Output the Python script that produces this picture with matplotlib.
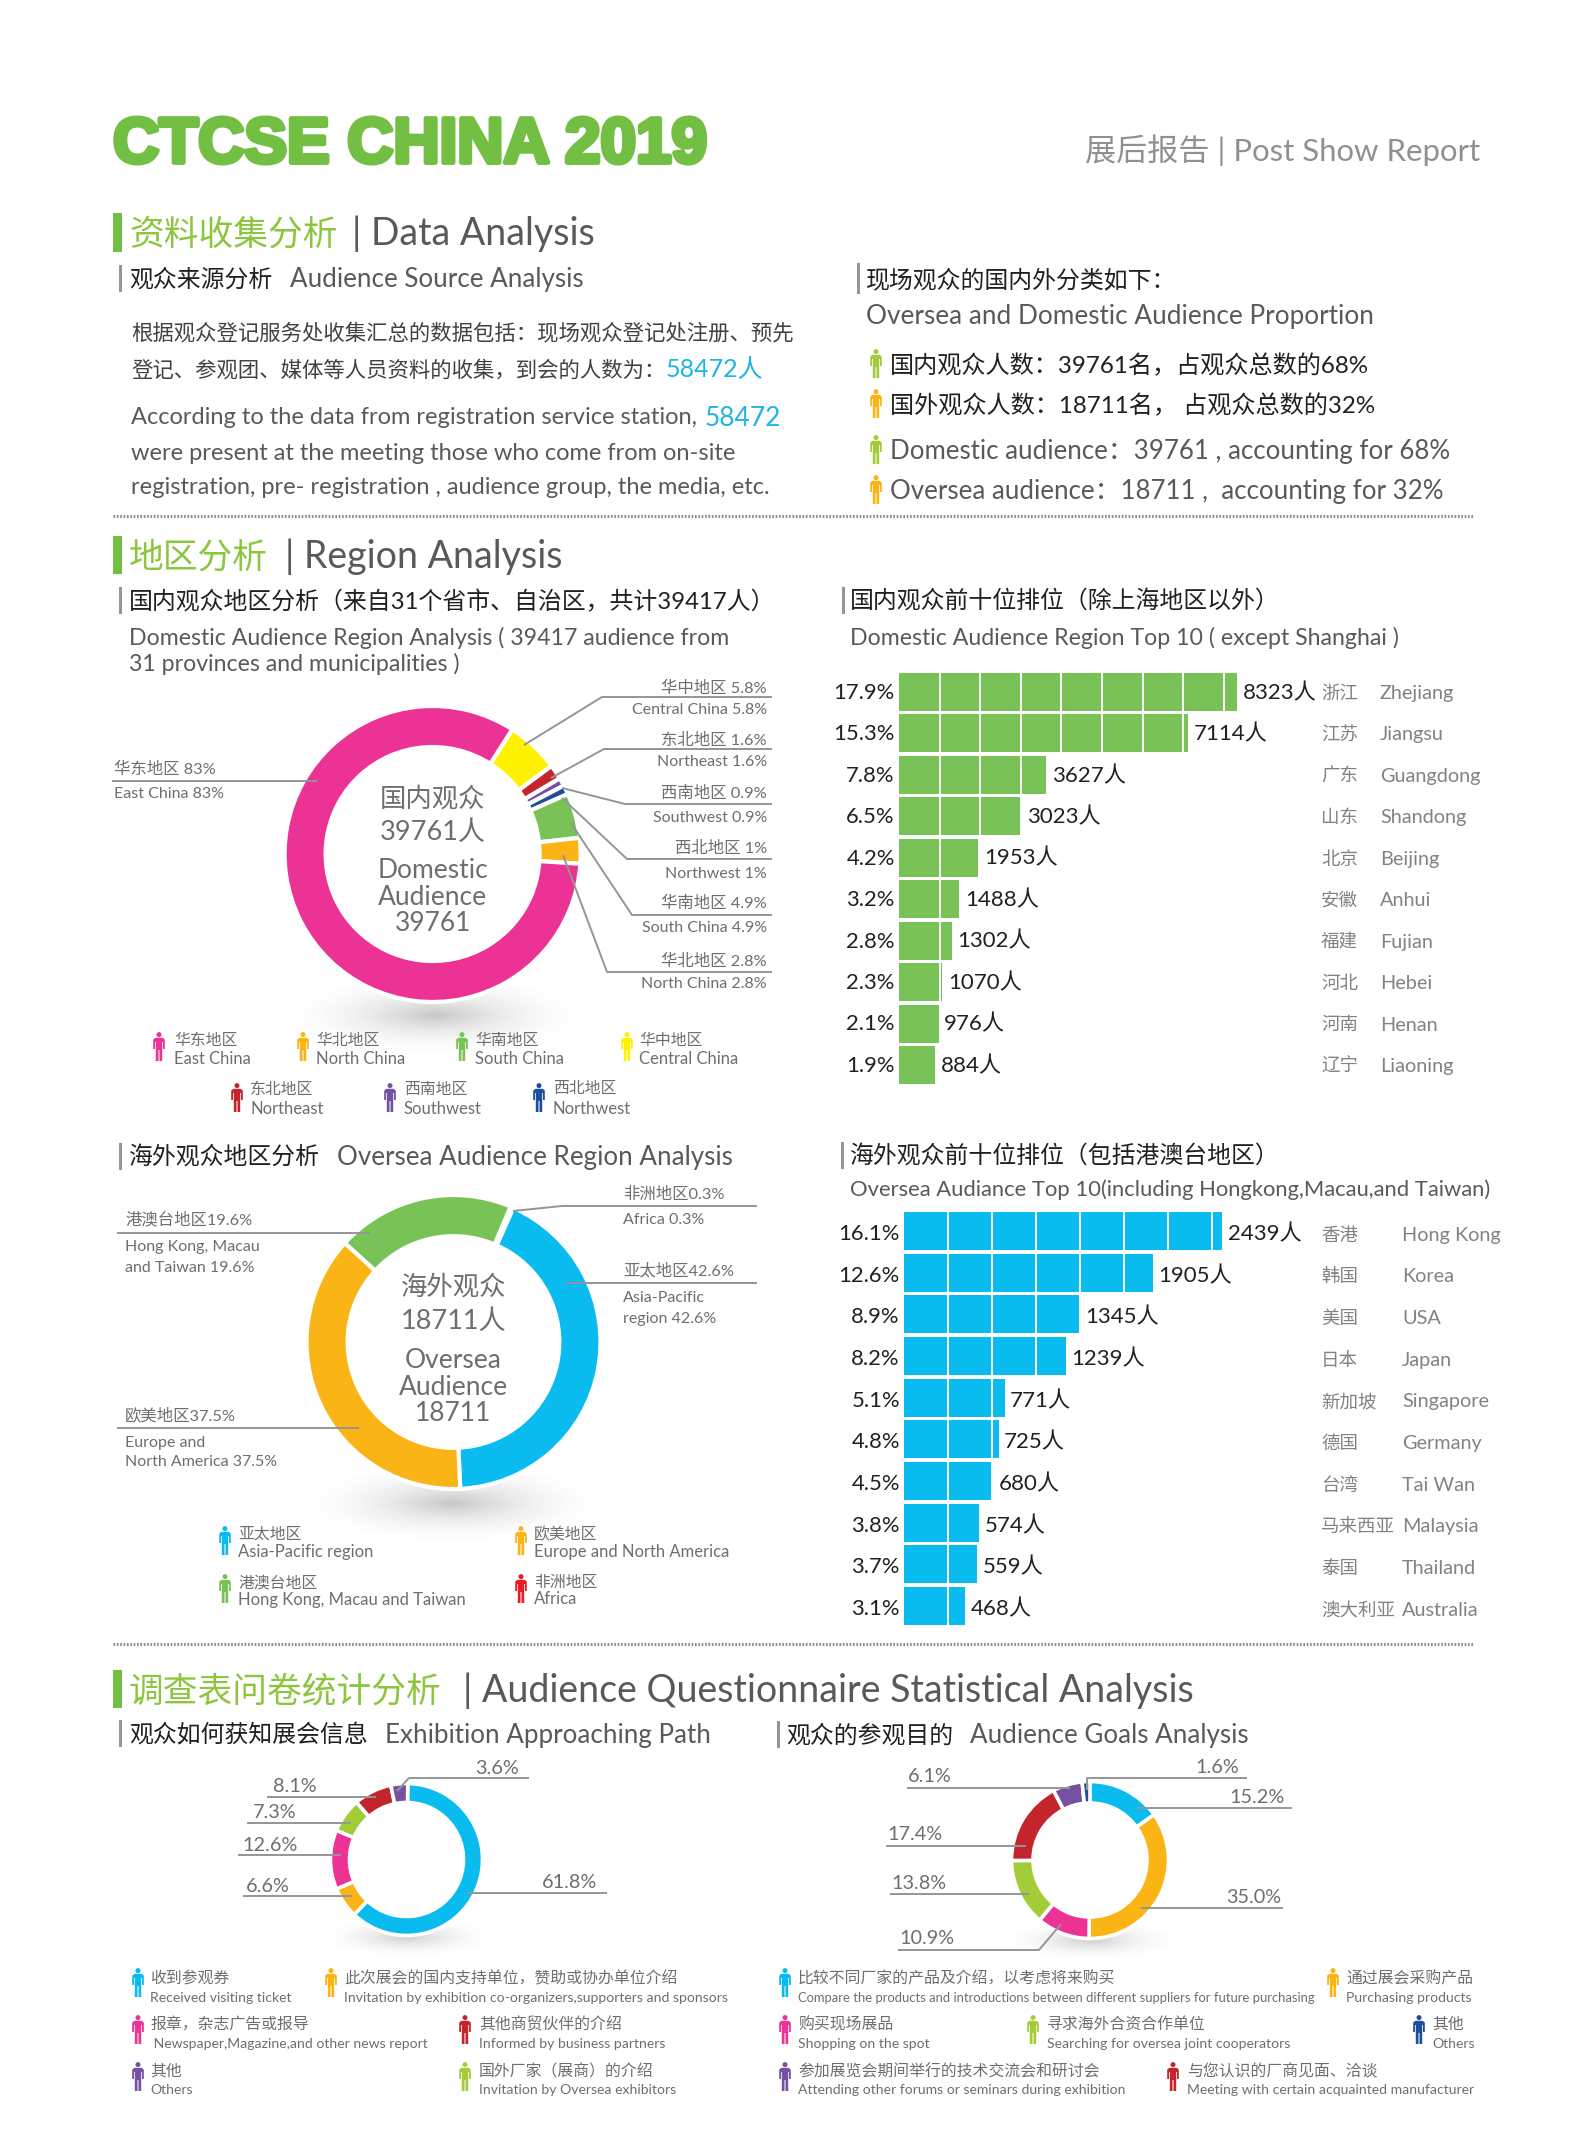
import numpy as np
from matplotlib import pyplot as plt
from matplotlib import patheffects as pe
from matplotlib.patches import Circle, Polygon

plt.rcParams['font.family'] = ['Lato', 'Noto Sans CJK SC', 'DejaVu Sans']

W, H = 1587, 2154

PINK, ORANGE, GREEN, YELLOW = '#ec3294', '#fbb416', '#78c257', '#fff200'
RED, PURPLE, NAVY, CYAN, LIME = '#c4242b', '#7751a1', '#1e4e9c', '#0abbef', '#a3cc39'
BRIGHTRED = '#ed1c24'
BLACK, DARK, MID, LIGHT = '#231f20', '#58595b', '#6d6e71', '#808285'
TITLEGREEN = '#72bf44'

# full width punctuation
CO, CM, LP, RP = '\uff1a', '\uff0c', '\uff08', '\uff09'

# donut data, clockwise from the start of the first slice
domestic_regions = ['华中地区', '东北地区', '西南地区', '西北地区', '华南地区', '华北地区', '华东地区']
domestic_share = [5.8, 1.6, 0.9, 1.0, 4.9, 2.8, 83.0]
oversea_share = [42.6, 37.5, 19.6, 0.3]
path_share = [61.8, 6.6, 12.6, 7.3, 8.1, 3.6]
goals_share = [15.2, 35.0, 10.9, 13.8, 17.4, 6.1, 1.6]

# top 10 bars
dom_cn = ['浙江', '江苏', '广东', '山东', '北京', '安徽', '福建', '河北', '河南', '辽宁']
dom_en = ['Zhejiang', 'Jiangsu', 'Guangdong', 'Shandong', 'Beijing', 'Anhui', 'Fujian', 'Hebei', 'Henan', 'Liaoning']
dom_people = [8323, 7114, 3627, 3023, 1953, 1488, 1302, 1070, 976, 884]
dom_pct = [17.9, 15.3, 7.8, 6.5, 4.2, 3.2, 2.8, 2.3, 2.1, 1.9]

sea_cn = ['香港', '韩国', '美国', '日本', '新加坡', '德国', '台湾', '马来西亚', '泰国', '澳大利亚']
sea_en = ['Hong Kong', 'Korea', 'USA', 'Japan', 'Singapore', 'Germany', 'Tai Wan', 'Malaysia', 'Thailand', 'Australia']
sea_people = [2439, 1905, 1345, 1239, 771, 725, 680, 574, 559, 468]
sea_pct = [16.1, 12.6, 8.9, 8.2, 5.1, 4.8, 4.5, 3.8, 3.7, 3.1]

fig = plt.figure(figsize=(W / 100, H / 100), dpi=100, facecolor='white')


def full_axes(z):
    a = fig.add_axes([0, 0, 1, 1], zorder=z)
    a.patch.set_alpha(0)
    a.set_axis_off()
    return a


bg = full_axes(0)
ov = full_axes(5)


def set_px(a):
    a.set_xlim(0, W)
    a.set_ylim(H, 0)


def t(x, y, s, size, color=MID, ha='left', **kw):
    return ov.text(x, y, s, fontsize=size, color=color, ha=ha, va='center_baseline', **kw)


def line(pts, color='#939598', lw=1.4):
    xs, ys = zip(*pts)
    ov.plot(xs, ys, color=color, lw=lw, solid_capstyle='butt')


def person(x, y, color, h=29):
    k = h / 29
    ov.add_patch(Circle((x, y + 2.6 * k), 2.5 * k, fc=color, ec='none'))
    body = [(-5.8, 7.5), (-3.5, 5.8), (3.5, 5.8), (5.8, 7.5), (5.8, 17), (4, 17), (4, 10), (3.2, 10), (3.2, 29),
            (0.5, 29), (0.5, 18), (-0.5, 18), (-0.5, 29), (-3.2, 29), (-3.2, 10), (-4, 10), (-4, 17), (-5.8, 17)]
    ov.add_patch(Polygon([(x + px * k, y + py * k) for px, py in body], fc=color, ec='none'))


def shadow(cx, cy, rx, ry, strength=0.4):
    xx, yy = np.meshgrid(np.linspace(-1, 1, 200), np.linspace(-1, 1, 100))
    d = np.hypot(xx, yy)
    rgba = np.zeros((100, 200, 4))
    rgba[..., :3] = 0.45
    rgba[..., 3] = strength * np.clip(1 - d, 0, 1) ** 2
    bg.imshow(rgba, extent=(cx - rx, cx + rx, cy + ry, cy - ry), aspect='auto', interpolation='bilinear')


def donut(values, colors, cx, cy, r, hole, start, gap=3.0):
    pad = 1.02
    a = fig.add_axes([(cx - r * pad) / W, 1 - (cy + r * pad) / H, 2 * r * pad / W, 2 * r * pad / H], zorder=2)
    a.pie(values, colors=colors, startangle=start, counterclock=False, radius=1,
          wedgeprops=dict(width=1 - hole, edgecolor='white', linewidth=gap))
    a.set_xlim(-pad, pad)
    a.set_ylim(-pad, pad)


def bars(values, pct, cn, en, color, left, first, step, scale, sep, cn_x, en_x, dy=0, name_dy=0, width=420):
    top = first - step / 2
    a = fig.add_axes([left / W, 1 - (top + 10 * step) / H, width / W, 10 * step / H], zorder=3)
    a.set_axis_off()
    y = np.arange(len(values))
    a.barh(y, values, height=38 / step, color=color)
    a.vlines(np.arange(sep, max(values), sep), -0.5, 9.5, color='white', lw=1.4)
    a.set_ylim(9.5, -0.5)
    a.set_xlim(0, width / scale)
    tr = a.get_yaxis_transform()
    for i in y:
        a.annotate(f'{values[i]}人', (values[i], i), xytext=(4, dy), textcoords='offset points',
                   va='center_baseline', fontsize=16, color=BLACK)
        a.annotate(f'{pct[i]}%', (0, i), xytext=(-3, dy), textcoords='offset points',
                   ha='right', va='center_baseline', fontsize=15.8, color=BLACK)
        a.annotate(cn[i], ((cn_x - left) / width, i), xycoords=tr, xytext=(0, name_dy), textcoords='offset points',
                   fontsize=13.3, color=LIGHT, va='center_baseline')
        a.annotate(en[i], ((en_x - left) / width, i), xycoords=tr, xytext=(0, name_dy), textcoords='offset points',
                   fontsize=14.3, color=LIGHT, va='center_baseline')


def section(y0, y1, cn, en, en_x):
    ov.fill_between([113, 122], y0, y1, color=TITLEGREEN, lw=0)
    mid = (y0 + y1) / 2
    t(129, mid - 1, cn, 25, color='#8cc63f')
    t(en_x, mid - 2, en, 27, color=DARK)


def sub(x, y0, y1, tx, cn, en=None, en_x=None):
    ov.fill_between([x, x + 3], y0, y1, color='#939598', lw=0)
    mid = (y0 + y1) / 2 - 1
    t(tx, mid, cn, 17.2, color=BLACK)
    if en:
        t(en_x, mid, en, 18.7, color=DARK)


def dotted(y):
    ov.plot([113, 1474], [y, y], color='#8a8c8e', lw=2.2, ls=(0, (0.55, 0.55)))


def legend(rows, size_cn=11.4, size_en=12):
    for ix, tx, ycn, yen, yic, color, cn, en in rows:
        person(ix, yic, color)
        t(tx, ycn, cn, size_cn)
        t(tx, yen, en, size_en)


# header
t(113, 139, 'CTCSE CHINA 2019', 46, color=TITLEGREEN, fontweight='bold', family=['Liberation Sans'],
  path_effects=[pe.withStroke(linewidth=3.5, foreground=TITLEGREEN)])
t(1480, 148, '展后报告 | Post Show Report', 22.4, color='#8e9093', ha='right')

# data analysis
section(213, 252, '资料收集分析', '| Data Analysis', 352)
sub(119, 265, 292, 129, '观众来源分析', 'Audience Source Analysis', 290)
t(131, 331, f'根据观众登记服务处收集汇总的数据包括{CO}现场观众登记处注册、预先', 15.4, color='#414042')
t(131, 368, f'登记、参观团、媒体等人员资料的收集{CM}到会的人数为{CO}', 15.4, color='#414042')
t(666, 368, '58472人', 18, color='#1db4e8')
t(131, 416, 'According to the data from registration service station,', 17, color=DARK)
t(705, 416, '58472', 19, color='#1db4e8')
t(131, 451, 'were present at the meeting those who come from on-site', 17, color=DARK)
t(131, 485, 'registration, pre- registration , audience group, the media, etc.', 17, color=DARK)

sub(857, 263, 294, 866, f'现场观众的国内外分类如下{CO}')
t(866, 314, 'Oversea and Domestic Audience Proportion', 18.8, color=DARK)
for y, c, s, col in [(363, LIME, f'国内观众人数{CO}39761名{CM}占观众总数的68%', BLACK),
                     (403, ORANGE, f'国外观众人数{CO}18711名{CM} 占观众总数的32%', BLACK),
                     (449, LIME, f'Domestic audience{CO}39761 , accounting for 68%', DARK),
                     (489, ORANGE, f'Oversea audience{CO}18711 ,  accounting for 32%', DARK)]:
    person(876, y - 14, c)
    t(890, y, s, 17.4 if col == BLACK else 18.6, color=col)
dotted(516)

# region analysis
section(536, 574, '地区分析', '| Region Analysis', 285)
sub(119, 587, 614, 129, f'国内观众地区分析{LP}来自31个省市、自治区{CM}共计39417人{RP}')
t(129, 636, 'Domestic Audience Region Analysis ( 39417 audience from', 16.7, color=DARK)
t(129, 662, '31 provinces and municipalities )', 16.7, color=DARK)
sub(842, 587, 614, 850, f'国内观众前十位排位{LP}除上海地区以外{RP}')
t(850, 636, 'Domestic Audience Region Top 10 ( except Shanghai )', 16.7, color=DARK)

shadow(435, 1015, 165, 42)
donut(domestic_share, [YELLOW, RED, PURPLE, NAVY, GREEN, ORANGE, PINK], 432.6, 854, 148, 0.723, 57.4)
bars(dom_people, dom_pct, dom_cn, dom_en, GREEN, 899, 692, 41.44, 0.0406, 1000, 1321, 1380, dy=0.8)

for pts, cn, en, ycn, yen in [
        ([(524, 745), (602, 697), (772, 697)], '华中地区 5.8%', 'Central China 5.8%', 687, 709),
        ([(551, 778), (604, 749), (772, 749)], '东北地区 1.6%', 'Northeast 1.6%', 739, 761),
        ([(562, 788), (625, 804), (772, 804)], '西南地区 0.9%', 'Southwest 0.9%', 792, 816),
        ([(562, 798), (627, 859), (772, 859)], '西北地区 1%', 'Northwest 1%', 847, 872),
        ([(571, 823), (632, 915), (772, 915)], '华南地区 4.9%', 'South China 4.9%', 902, 926),
        ([(563, 855), (607, 972), (772, 972)], '华北地区 2.8%', 'North China 2.8%', 960, 982)]:
    line(pts)
    t(767, ycn, cn, 11.8, ha='right')
    t(767, yen, en, 11.5, ha='right')
line([(112, 781), (317, 781)])
t(114, 768, '华东地区 83%', 11.8)
t(114, 792, 'East China 83%', 11.5)

t(432.6, 797, '国内观众', 19, ha='center')
t(432.6, 830, '39761人', 19.5, ha='center')
t(432.6, 868, 'Domestic', 19, ha='center')
t(432.6, 895, 'Audience', 19, ha='center')
t(432.6, 921, '39761', 19, ha='center')

legend([(159, 174, 1039, 1058, 1032, PINK, domestic_regions[6], 'East China'),
        (303, 316.5, 1039, 1058, 1032, ORANGE, domestic_regions[5], 'North China'),
        (462, 475, 1039, 1058, 1032, GREEN, domestic_regions[4], 'South China'),
        (627, 639, 1039, 1058, 1032, YELLOW, domestic_regions[0], 'Central China'),
        (237, 250, 1088, 1108, 1083, RED, domestic_regions[1], 'Northeast'),
        (390, 404, 1088, 1108, 1083, PURPLE, domestic_regions[2], 'Southwest'),
        (539, 553, 1088, 1108, 1083, NAVY, domestic_regions[3], 'Northwest')])

# oversea region
sub(119, 1143, 1170, 129, '海外观众地区分析', 'Oversea Audience Region Analysis', 337)
sub(841, 1142, 1169, 850, f'海外观众前十位排位{LP}包括港澳台地区{RP}')
t(850, 1188, 'Oversea Audiance Top 10(including Hongkong,Macau,and Taiwan)', 15.8, color=DARK)

shadow(453, 1503, 165, 42)
donut(oversea_share, [CYAN, ORANGE, GREEN, BRIGHTRED], 453.5, 1342, 147, 0.72, 66)
bars(sea_people, sea_pct, sea_cn, sea_en, CYAN, 904, 1231, 41.67, 0.1305, 337, 1321, 1402, dy=-0.8, name_dy=-2)

line([(513, 1211), (562, 1206), (757, 1206)])
t(623, 1193, '非洲地区0.3%', 11.8)
t(623, 1219, 'Africa 0.3%', 11.5)
line([(566, 1283), (757, 1283)])
t(623, 1269, '亚太地区42.6%', 11.8)
t(623, 1296, 'Asia-Pacific', 11.5)
t(623, 1317, 'region 42.6%', 11.5)
line([(117, 1233), (370, 1233)])
t(125, 1218, '港澳台地区19.6%', 11.8)
t(125, 1246, 'Hong Kong, Macau', 11.5)
t(125, 1266, 'and Taiwan 19.6%', 11.5)
line([(117, 1428), (359, 1428)])
t(125, 1414, '欧美地区37.5%', 11.8)
t(125, 1441, 'Europe and', 11.5)
t(125, 1461, 'North America 37.5%', 11.5)

t(453.5, 1285, '海外观众', 19, ha='center')
t(453.5, 1319, '18711人', 19.5, ha='center')
t(453.5, 1358, 'Oversea', 19, ha='center')
t(453.5, 1385, 'Audience', 19, ha='center')
t(453.5, 1411, '18711', 19, ha='center')

legend([(225, 238, 1533, 1551, 1526, CYAN, '亚太地区', 'Asia-Pacific region'),
        (521, 534, 1533, 1551, 1526, ORANGE, '欧美地区', 'Europe and North America'),
        (225, 238, 1581, 1598, 1574, GREEN, '港澳台地区', 'Hong Kong, Macau and Taiwan'),
        (521, 534, 1581, 1598, 1574, BRIGHTRED, '非洲地区', 'Africa')])
dotted(1644)

# questionnaire
section(1670, 1708, '调查表问卷统计分析', '| Audience Questionnaire Statistical Analysis', 463)
sub(119, 1720, 1747, 129, '观众如何获知展会信息', 'Exhibition Approaching Path', 385)
sub(777, 1721, 1748, 786, '观众的参观目的', 'Audience Goals Analysis', 970)

shadow(407, 1937, 95, 22, 0.35)
shadow(1091, 1940, 95, 22, 0.35)
donut(path_share, [CYAN, ORANGE, PINK, LIME, RED, PURPLE], 406.5, 1859.5, 76, 0.75, 89, gap=2.6)
donut(goals_share, [CYAN, ORANGE, PINK, LIME, RED, PURPLE, NAVY], 1090, 1860, 78.5, 0.726, 90, gap=2.6)

for pts, s, x, y in [([(397, 1791), (409, 1778), (529, 1778)], '3.6%', 475, 1767),
                     ([(267, 1797), (376, 1797)], '8.1%', 273, 1785),
                     ([(247, 1823), (351, 1823)], '7.3%', 253, 1811),
                     ([(238, 1855), (341, 1855)], '12.6%', 242, 1844),
                     ([(243, 1896), (352, 1896)], '6.6%', 246, 1885),
                     ([(467, 1893), (607, 1893)], '61.8%', 542, 1881),
                     ([(1087, 1790), (1087, 1778), (1247, 1778)], '1.6%', 1195, 1766),
                     ([(1137, 1808), (1292, 1808)], '15.2%', 1229, 1796),
                     ([(1141, 1908), (1283, 1908)], '35.0%', 1226, 1896),
                     ([(907, 1788), (1070, 1788)], '6.1%', 908, 1775),
                     ([(886, 1846), (1026, 1846)], '17.4%', 887, 1833),
                     ([(890, 1894), (1029, 1894)], '13.8%', 891, 1882),
                     ([(1061, 1924), (1039, 1950), (898, 1950)], '10.9%', 899, 1937)]:
    line(pts)
    t(x, y, s, 14.3)

rows3 = [1977, 2023, 2070]
rows3_en = [1997, 2043, 2089]
icons3 = [1968, 2015, 2062]
legend([(138, 150, rows3[0], rows3_en[0], icons3[0], CYAN, '收到参观券', 'Received visiting ticket'),
        (331, 344, rows3[0], rows3_en[0], icons3[0], ORANGE, f'此次展会的国内支持单位{CM}赞助或协办单位介绍',
         'Invitation by exhibition co-organizers,supporters and sponsors'),
        (138, 150, rows3[1], rows3_en[1], icons3[1], PINK, f'报章{CM}杂志广告或报导', ' Newspaper,Magazine,and other news report'),
        (465, 479, rows3[1], rows3_en[1], icons3[1], RED, '其他商贸伙伴的介绍', 'Informed by business partners'),
        (138, 150, rows3[2], rows3_en[2], icons3[2], PURPLE, '其他', 'Others'),
        (465, 479, rows3[2], rows3_en[2], icons3[2], LIME, f'国外厂家{LP}展商{RP}的介绍', 'Invitation by Oversea exhibitors'),
        (1333, 1346, rows3[0], rows3_en[0], icons3[0], ORANGE, '通过展会采购产品', 'Purchasing products'),
        (785, 798, rows3[1], rows3_en[1], icons3[1], PINK, '购买现场展品', 'Shopping on the spot'),
        (1033, 1047, rows3[1], rows3_en[1], icons3[1], LIME, '寻求海外合资合作单位', 'Searching for oversea joint cooperators'),
        (1419, 1432, rows3[1], rows3_en[1], icons3[1], NAVY, '其他', 'Others'),
        (785, 798, rows3[2], rows3_en[2], icons3[2], PURPLE, '参加展览会期间举行的技术交流会和研讨会',
         'Attending other forums or seminars during exhibition'),
        (1173, 1187, rows3[2], rows3_en[2], icons3[2], RED, '与您认识的厂商见面、洽谈', 'Meeting with certain acquainted manufacturer')],
       size_en=10.05)
legend([(785, 798, rows3[0], rows3_en[0], icons3[0], CYAN, f'比较不同厂家的产品及介绍{CM}以考虑将来购买',
         'Compare the products and introductions between different suppliers for future purchasing')],
       size_en=9.4)

set_px(bg)
set_px(ov)
fig.savefig('out.png', dpi=100)
